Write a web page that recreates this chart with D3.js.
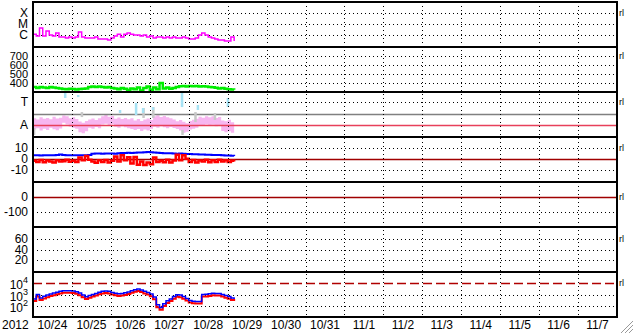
<!DOCTYPE html>
<meta charset="utf-8" />
<html>
<head>
<script src="https://d3js.org/d3.v7.min.js"></script>
<style>
body { margin: 0; background: #fff; }
text { font-family: "Liberation Sans", Arial, sans-serif; font-size: 12px; fill: #000; }
</style>
</head>
<body>
<script>
// time grid: samples every 2 hours from 2012-10-24 00:00 UTC
var start = Date.UTC(2012, 9, 24);
var end = Date.UTC(2012, 10, 8);
var stepHours = 2;

// panel 1: x-ray flux, in units of 1e-6 W/m2 (C = 1)
var xray = [1.2, 0.81, 4.4, 0.81, 2.3, 1.0, 0.81, 1.5, 0.65, 0.65, 0.53, 0.65, 0.53, 0.65, 1.9, 0.65,
  0.53, 0.53, 0.53, 0.65, 0.43, 0.43, 0.43, 0.34, 0.53, 0.81, 1.2, 0.65, 1.2, 1.5, 1.2, 1.0,
  1.0, 0.81, 1.0, 0.65, 0.81, 0.53, 0.65, 0.65, 0.53, 0.65, 0.53, 0.65, 0.53, 0.53, 0.65, 0.53,
  0.43, 0.43, 0.53, 1.0, 1.5, 1.0, 0.65, 0.53, 0.43, 0.34, 0.34, 0.28, 0.28, 0.65, 0.28];

// panel 2: speed
var speed = [356, 344, 356, 350, 344, 356, 350, 344, 340, 333, 330, 336, 333, 328, 333, 336,
  340, 356, 360, 356, 362, 356, 350, 356, 345, 340, 330, 345, 335, 322, 340, 330,
  350, 318, 345, 360, 325, 350, 330, 400, 340, 350, 335, 345, 356, 365, 367, 362,
  367, 364, 367, 362, 365, 360, 356, 352, 348, 340, 345, 335, 330, 328, 325];

// panel 3: band (A = 0, T = 10)
var bandHi = [3.0, 2.4, 3.4, 2.8, 3.1, 2.5, 3.6, 2.9, 3.2, 4.2, 3.8, 3.0, 3.4, 2.6, 1.5, 1.0,
  1.8, 2.4, 2.9, 2.2, 3.0, 3.8, 4.4, 3.6, 4.0, 2.8, 3.3, 2.6, 3.1, 2.5, 3.0, 2.0,
  2.6, 1.8, 2.4, 2.9, 2.2, 3.9, 4.3, 3.5, 4.0, 3.4, 3.0, 2.4, 1.6, 2.2, 1.4, 0.8,
  1.8, 2.3, 2.8, 3.6, 3.2, 3.8, 3.4, 3.9, 3.1, 3.5, 2.0, 1.6, 2.3, 1.2, 1.8];
var bandLo = [-2.0, -1.4, -2.4, -1.6, -2.2, -1.2, -1.9, -2.3, -1.5, 1.0, 0.2, -0.8, -1.2, -1.6, -3.2, -3.6,
  -2.8, -1.2, -1.6, -0.9, -1.4, 0.2, 0.6, -0.2, 0.3, -0.8, -1.2, -0.6, -1.0, -1.4, -1.8, -2.2,
  -1.8, -2.6, -2.0, -2.4, -1.6, -0.8, -1.2, -0.6, -1.0, -1.4, -0.9, -1.3, -1.8, -2.4, -3.4, -3.0,
  -2.0, -1.6, -1.2, 0.0, -0.4, 0.2, -0.3, 0.1, -0.5, -0.2, -2.6, -3.2, -2.8, -3.4, -2.2];
// sparse spikes (hour from start, top, bottom)
var cyanHours = [19.7, 27.7, 53.5, 63.4, 67.7, 73.8, 91.7, 101.5, 120];
var cyanTop = [14.1, 13.2, 6.6, 9.7, 7.5, 7.9, 14.1, 8.8, 11.9];
var cyanBottom = [11.9, 12.3, 5.3, 4.4, 5.3, 6.6, 7.9, 6.6, 7.9];
var grayHours = [0.5, 30, 68, 74, 92, 100, 112];
var grayTop = [-1.3, 5.7, 7.5, 7.9, -2.2, 5.7, 5.3];
var grayBottom = [-4.4, 3.5, 3.1, 3.1, -4.4, 1.3, 2.2];

// panel 4: Bt (blue) and Bz (red)
var bt = [3.5, 3.6, 3.4, 3.6, 3.5, 3.7, 3.6, 3.9, 4.2, 3.8, 3.6, 3.5, 3.6, 3.7, 3.6, 3.5,
  3.6, 3.8, 5.0, 5.1, 5.2, 5.0, 5.1, 5.2, 5.1, 5.0, 5.3, 5.7, 5.6, 5.8, 5.7, 5.9,
  6.2, 6.0, 6.4, 6.6, 6.3, 6.1, 5.8, 5.6, 5.5, 5.3, 5.4, 5.2, 5.0, 5.1, 4.9, 4.8,
  4.7, 4.5, 4.4, 4.3, 4.2, 4.0, 4.1, 3.9, 3.8, 3.8, 3.5, 3.4, 3.3, 3.2, 3.0];
var bz = [-1.5, -2.5, -0.8, -2.8, -1.2, -2.0, -3.0, -1.0, -2.2, -1.8, -0.5, -2.4, -1.5, -2.6, 1.5, -1.0,
  3.0, -0.5, -2.0, -3.2, -1.0, -2.5, -0.8, -3.0, -1.5, 2.5, -2.0, 3.5, -1.0, 1.8, -4.0, 2.0,
  -5.0, -2.0, -5.2, -3.0, -4.5, 1.5, -2.5, -1.5, -2.8, -0.5, -3.0, -1.2, 4.0, -1.0, 3.5, 0.5,
  -2.5, -0.8, -3.0, -1.2, -2.2, -0.5, -2.8, -1.0, -2.5, -0.4, -2.0, -1.0, -2.6, -1.4, -2.2];

// panel 7: electron flux (blue) and second channel (red)
var fluxBlue = [400, 1000, 500, 700, 900, 1100, 1350, 1600, 1900, 2150, 2200, 2200, 2100, 1800, 1350, 900,
  630, 800, 1000, 1250, 1600, 1900, 2100, 1900, 1500, 1300, 1150, 1250, 1400, 1700, 2200, 2700,
  3100, 2500, 1900, 1500, 1100, 600, 120, 70, 150, 280, 400, 650, 950, 900, 650, 450,
  300, 250, 240, 240, 1000, 1050, 1150, 1300, 1250, 1250, 1000, 800, 650, 500, 400];
var fluxRed = [260, 650, 330, 450, 580, 720, 880, 1050, 1250, 1400, 1450, 1450, 1380, 1180, 880, 580,
  400, 520, 650, 820, 1050, 1250, 1380, 1250, 980, 850, 750, 820, 920, 1100, 1450, 1750,
  2000, 1650, 1250, 980, 700, 380, 75, 45, 95, 180, 260, 420, 620, 580, 420, 290,
  195, 165, 155, 155, 650, 680, 750, 850, 820, 820, 650, 520, 420, 330, 260];

// tick labels per panel
var ticks1 = [100, 10, 1], labels1 = ["X", "M", "C"];
var ticks2 = [700, 600, 500, 400];
var ticks3 = [10, 0], labels3 = ["T", "A"];
var ticks4 = [10, 0, -10];
var ticks5 = [0, -100];
var ticks6 = [60, 40, 20];
var ticks7 = [1e4, 1e3, 1e2];

var left = 33, right = 617, topY = 2, panelH = 45, nPanels = 7;
var bottomY = topY + panelH * nPanels;

var svg = d3.select('body').append('svg')
    .attr('width', 633)
    .attr('height', 334);
svg.append('rect').attr('width', 633).attr('height', 334).attr('fill', '#fff');

var x = d3.scaleUtc().domain([start, end]).range([left, right]);
function tAt(i) { return new Date(start + i * stepHours * 3600000); }
function tHour(h) { return new Date(start + h * 3600000); }

var panels = [
  {y: d3.scaleLog().domain([1, 100]).range([33, 11.3]), ticks: ticks1, labels: labels1, special: []},
  {y: d3.scaleLinear().domain([400, 700]).range([36, 9]), ticks: ticks2, special: [], fs: 11},
  {y: d3.scaleLinear().domain([0, 10]).range([33, 10.3]), ticks: ticks3, labels: labels3, special: [0]},
  {y: d3.scaleLinear().domain([-10, 10]).range([33.2, 11.2]), ticks: ticks4, special: [0]},
  {y: d3.scaleLinear().domain([-100, 0]).range([30.3, 15.3]), ticks: ticks5, special: [0]},
  {y: d3.scaleLinear().domain([20, 60]).range([33, 12]), ticks: ticks6, special: []},
  {y: d3.scaleLog().domain([10, 1e5]).range([45, 0]), ticks: ticks7, special: [1e4], sup: true}
];

svg.append('defs').selectAll('clipPath')
    .data(panels)
    .enter().append('clipPath')
    .attr('id', function(d, i) { return 'clip' + i; })
    .append('rect')
    .attr('x', left).attr('y', 0)
    .attr('width', right - left).attr('height', panelH);

var g = svg.selectAll('g.panel')
    .data(panels)
    .enter().append('g')
    .attr('class', 'panel')
    .attr('transform', function(d, i) { return 'translate(0,' + (topY + i * panelH) + ')'; });

// horizontal dotted gridlines
g.each(function(p) {
  var pg = d3.select(this);
  pg.selectAll('line.hgrid')
    .data(p.ticks.filter(function(t) { return p.special.indexOf(t) < 0; }))
    .enter().append('line')
    .attr('x1', left).attr('x2', right)
    .attr('y1', function(t) { return Math.round(p.y(t)) + 0.5; })
    .attr('y2', function(t) { return Math.round(p.y(t)) + 0.5; })
    .attr('stroke', '#000')
    .attr('stroke-dasharray', '1,3');
  // tick labels
  var lab = pg.selectAll('text.tick')
    .data(p.ticks)
    .enter().append('text')
    .attr('x', 28)
    .attr('y', function(t) { return p.y(t) + 4; })
    .attr('text-anchor', 'end');
  if (p.fs) lab.style('font-size', p.fs + 'px');
  if (p.sup) {
    lab.attr('y', function(t) { return p.y(t) + 6; });
    lab.append('tspan').text('10');
    lab.append('tspan').attr('dy', -6).style('font-size', '9px')
      .text(function(t) { return Math.round(Math.log10(t)); });
  } else {
    lab.text(function(t, i) { return p.labels ? p.labels[i] : t; });
  }
  // right-side glyph
  pg.append('text')
    .attr('x', 619)
    .attr('y', p.y(p.ticks[0]) + 3)
    .style('font-size', '9px')
    .text('rl');
});

// vertical dotted gridlines at midnight
svg.append('g').selectAll('line')
    .data(d3.utcDay.range(new Date(start + 86400000), new Date(end)))
    .enter().append('line')
    .attr('x1', function(d) { return Math.round(x(d)) + 0.5; })
    .attr('x2', function(d) { return Math.round(x(d)) + 0.5; })
    .attr('y1', topY).attr('y2', bottomY)
    .attr('stroke', '#000')
    .attr('stroke-dasharray', '1,3');

// panel 1
var p1 = g.filter(function(d, i) { return i == 0; });
p1.append('path')
    .attr('clip-path', 'url(#clip0)')
    .attr('d', d3.line()
      .x(function(d, i) { return x(tAt(i)); })
      .y(function(d) { return panels[0].y(d); })
      .curve(d3.curveStepAfter)(xray))
    .attr('fill', 'none').attr('stroke', '#ff00ff').attr('stroke-width', 1.5);

// panel 2
var p2 = g.filter(function(d, i) { return i == 1; });
p2.append('path')
    .attr('clip-path', 'url(#clip1)')
    .attr('d', d3.line()
      .x(function(d, i) { return x(tAt(i)); })
      .y(function(d) { return panels[1].y(d); })
      .curve(d3.curveStepAfter)(speed))
    .attr('fill', 'none').attr('stroke', '#00ee00').attr('stroke-width', 2.5);

// panel 3
var p3 = g.filter(function(d, i) { return i == 2; });
var y3 = panels[2].y;
p3.append('path')
    .attr('d', d3.area()
      .x(function(d, i) { return x(tAt(i)); })
      .y0(function(d, i) { return y3(bandLo[i]); })
      .y1(function(d) { return y3(d); })
      .curve(d3.curveStepAfter)(bandHi))
    .attr('fill', '#f7b6f0');
p3.append('line')
    .attr('x1', left).attr('x2', right)
    .attr('y1', Math.round(y3(5)) + 0.5).attr('y2', Math.round(y3(5)) + 0.5)
    .attr('stroke', '#808080').attr('stroke-width', 1.5);
p3.append('line')
    .attr('x1', left).attr('x2', right)
    .attr('y1', Math.round(y3(0)) + 0.5).attr('y2', Math.round(y3(0)) + 0.5)
    .attr('stroke', '#e8405a').attr('stroke-width', 1.5);
p3.selectAll('rect.gray')
    .data(grayHours)
    .enter().append('rect')
    .attr('x', function(h) { return x(tHour(h)) - 1; })
    .attr('width', 2.5)
    .attr('y', function(h, i) { return y3(grayTop[i]); })
    .attr('height', function(h, i) { return y3(grayBottom[i]) - y3(grayTop[i]); })
    .attr('fill', '#c8c8c8');
p3.selectAll('rect.cyan')
    .data(cyanHours)
    .enter().append('rect')
    .attr('x', function(h) { return x(tHour(h)) - 1; })
    .attr('width', 2.5)
    .attr('y', function(h, i) { return y3(cyanTop[i]); })
    .attr('height', function(h, i) { return y3(cyanBottom[i]) - y3(cyanTop[i]); })
    .attr('fill', '#a6e2f4');

// panel 4
var p4 = g.filter(function(d, i) { return i == 3; });
var y4 = panels[3].y;
p4.append('line')
    .attr('x1', left).attr('x2', right)
    .attr('y1', Math.round(y4(0)) + 0.5).attr('y2', Math.round(y4(0)) + 0.5)
    .attr('stroke', '#a00000').attr('stroke-width', 1.5);
p4.append('path')
    .attr('d', d3.line()
      .x(function(d, i) { return x(tAt(i)); })
      .y(function(d) { return y4(d); })
      .curve(d3.curveStepAfter)(bt))
    .attr('fill', 'none').attr('stroke', '#0000ff').attr('stroke-width', 2);
p4.append('path')
    .attr('d', d3.line()
      .x(function(d, i) { return x(tAt(i)); })
      .y(function(d) { return y4(d); })
      .curve(d3.curveStepAfter)(bz))
    .attr('fill', 'none').attr('stroke', '#ff0000').attr('stroke-width', 2.5);

// panel 5
var p5 = g.filter(function(d, i) { return i == 4; });
p5.append('line')
    .attr('x1', left).attr('x2', right)
    .attr('y1', Math.round(panels[4].y(0)) + 0.5).attr('y2', Math.round(panels[4].y(0)) + 0.5)
    .attr('stroke', '#a00000').attr('stroke-width', 1.5);

// panel 7
var p7 = g.filter(function(d, i) { return i == 6; });
var y7 = panels[6].y;
p7.append('line')
    .attr('x1', left).attr('x2', right)
    .attr('y1', Math.round(y7(1e4)) + 0.5).attr('y2', Math.round(y7(1e4)) + 0.5)
    .attr('stroke', '#b00000').attr('stroke-width', 1.5)
    .attr('stroke-dasharray', '9,4');
p7.append('path')
    .attr('d', d3.line()
      .x(function(d, i) { return x(tAt(i)); })
      .y(function(d) { return y7(d); })
      .curve(d3.curveStepAfter)(fluxRed))
    .attr('fill', 'none').attr('stroke', '#ff0000').attr('stroke-width', 2);
p7.append('path')
    .attr('d', d3.line()
      .x(function(d, i) { return x(tAt(i)); })
      .y(function(d) { return y7(d); })
      .curve(d3.curveStepAfter)(fluxBlue))
    .attr('fill', 'none').attr('stroke', '#0000ff').attr('stroke-width', 1.5);

// frame and panel separators
svg.append('g').selectAll('line')
    .data(d3.range(nPanels + 1))
    .enter().append('line')
    .attr('x1', left - 1).attr('x2', right + 1)
    .attr('y1', function(k) { return topY + k * panelH; })
    .attr('y2', function(k) { return topY + k * panelH; })
    .attr('stroke', '#000').attr('stroke-width', 2);
svg.append('line').attr('x1', left).attr('x2', left).attr('y1', topY).attr('y2', bottomY)
    .attr('stroke', '#000').attr('stroke-width', 2);
svg.append('line').attr('x1', right).attr('x2', right).attr('y1', topY).attr('y2', bottomY)
    .attr('stroke', '#000').attr('stroke-width', 2);

// time axis labels at noon of each day
var fmt = d3.utcFormat('%-m/%-d');
svg.append('g').selectAll('text')
    .data(d3.utcDay.range(new Date(start), new Date(end)))
    .enter().append('text')
    .attr('x', function(d) { return x(new Date(+d + 43200000)); })
    .attr('y', 329)
    .attr('text-anchor', 'middle')
    .text(function(d) { return fmt(d); });
svg.append('text').attr('x', 2).attr('y', 329).text('2012');

// resize grip
svg.append('g').selectAll('line')
    .data([0, 4, 8])
    .enter().append('line')
    .attr('x1', function(k) { return 621 + k; }).attr('y1', 333)
    .attr('x2', 633).attr('y2', function(k) { return 321 + k; })
    .attr('stroke', '#999');
</script>
</body>
</html>
